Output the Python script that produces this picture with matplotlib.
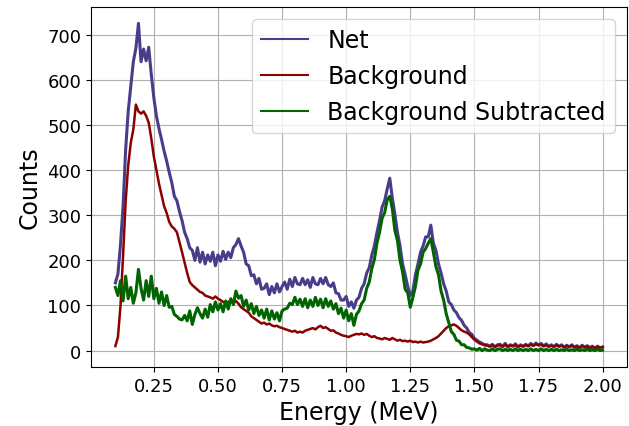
import numpy as np
import matplotlib
matplotlib.use("Agg")
import matplotlib.pyplot as plt

# energy grid of the spectrum (MeV), 0.01 MeV steps
energy = np.linspace(0.10, 2.00, 191)

# counts
net = [
    150, 170, 235, 320, 445, 530, 585, 640, 670, 725,
    640, 668, 642, 672, 612, 560, 520, 492, 468, 442,
    420, 395, 372, 342, 332, 308, 288, 262, 248, 228,
    222, 200, 228, 196, 218, 192, 212, 198, 218, 188,
    212, 198, 220, 202, 218, 206, 228, 235, 248, 232,
    218, 192, 188, 166, 168, 148, 160, 136, 138, 148,
    124, 142, 128, 148, 130, 142, 152, 136, 158, 142,
    162, 148, 146, 160, 146, 157, 140, 162, 148, 146,
    160, 148, 162, 146, 142, 150, 128, 126, 112, 112,
    120, 98, 108, 94, 112, 118, 138, 148, 172, 184,
    212, 232, 262, 288, 318, 332, 358, 382, 338, 302,
    262, 232, 192, 168, 142, 122, 132, 168, 192, 218,
    232, 252, 252, 278, 238, 222, 192, 172, 148, 132,
    108, 102, 90, 84, 73, 67, 56, 50, 40, 36,
    27, 23, 19, 16, 13, 13, 9, 14, 8, 13,
    14, 9, 16, 8, 13, 10, 15, 8, 13, 9,
    14, 10, 16, 11, 17, 12, 16, 10, 15, 9,
    13, 8, 14, 9, 13, 7, 12, 8, 13, 7,
    11, 6, 12, 7, 11, 6, 10, 5, 10, 6,
    8,
]

background = [
    10, 30, 100, 210, 330, 410, 460, 490, 545, 530,
    525, 530, 520, 505, 470, 430, 400, 370, 345, 320,
    305, 285, 275, 270, 262, 240, 218, 195, 172, 152,
    145, 140, 135, 130, 128, 122, 120, 118, 115, 120,
    115, 112, 108, 105, 108, 110, 105, 110, 104, 96,
    92, 88, 84, 76, 72, 68, 64, 60, 62, 58,
    60, 56, 54, 55, 52, 50, 48, 46, 44, 42,
    44, 40, 42, 40, 44, 46, 48, 50, 47, 52,
    55, 50, 52, 48, 44, 45, 40, 38, 35, 33,
    32, 30, 33, 35, 37, 36, 38, 35, 37, 33,
    30, 32, 28, 27, 25, 28, 26, 24, 28, 25,
    22, 24, 21, 22, 20, 22, 19, 20, 18, 20,
    18, 19, 20, 22, 25, 28, 32, 38, 44, 50,
    54, 56, 58, 55, 50, 45, 42, 40, 36, 30,
    24, 20, 16, 14, 12, 11, 10, 12, 9, 11,
    12, 9, 13, 9, 11, 10, 12, 9, 11, 10,
    12, 10, 13, 11, 14, 12, 13, 10, 12, 9,
    11, 9, 12, 9, 11, 8, 10, 8, 11, 8,
    9, 7, 10, 8, 9, 7, 8, 6, 8, 7,
    8,
]

subtracted = [
    140, 122, 155, 110, 165, 115, 140, 105, 128, 180,
    138, 112, 155, 120, 165, 115, 138, 105, 130, 100,
    122, 96, 98, 80, 76, 70, 68, 78, 66, 88,
    58, 80, 95, 82, 72, 92, 74, 102, 86, 108,
    90, 104, 86, 110, 92, 115, 102, 132, 116, 122,
    98, 112, 90, 104, 82, 98, 78, 90, 72, 92,
    68, 88, 70, 84, 66, 88, 92, 94, 105, 102,
    118, 102, 114, 98, 115, 95, 112, 98, 118, 100,
    114, 95, 115, 98, 110, 92, 104, 82, 94, 72,
    90, 66, 82, 56, 80, 88, 104, 112, 138, 152,
    182, 202, 238, 262, 293, 306, 334, 342, 314, 266,
    244, 200, 174, 136, 128, 96, 118, 142, 178, 192,
    218, 226, 238, 248, 218, 186, 168, 132, 112, 82,
    62, 42, 36, 23, 21, 13, 13, 7, 6, 3,
    4, 1, 5, 0, 4, 1, 0, 4, 0, 3,
    4, 0, 3, 0, 3, 0, 4, 0, 3, 0,
    3, 0, 4, 0, 3, 0, 4, 0, 3, 0,
    3, 0, 3, 0, 2, 0, 3, 0, 2, 0,
    3, 0, 2, 0, 3, 0, 2, 0, 3, 0,
    1,
]

fig = plt.figure(figsize=(6.29, 4.27), dpi=100)
ax = fig.add_axes([0.1447, 0.1382, 0.8521, 0.8431])

ax.plot(energy, net, color='darkslateblue', lw=2.2, label='Net')
ax.plot(energy, background, color='darkred', lw=1.8, label='Background')
ax.plot(energy, subtracted, color='darkgreen', lw=2.2, label='Background Subtracted')

ax.set_xlabel('Energy (MeV)', fontsize=17)
ax.set_ylabel('Counts', fontsize=17)
ax.tick_params(labelsize=13)
ax.grid(True)
leg = ax.legend(fontsize=17, loc='upper right')
for line in leg.get_lines():
    line.set_linewidth(1.5)

fig.savefig('out.png', dpi=100)
